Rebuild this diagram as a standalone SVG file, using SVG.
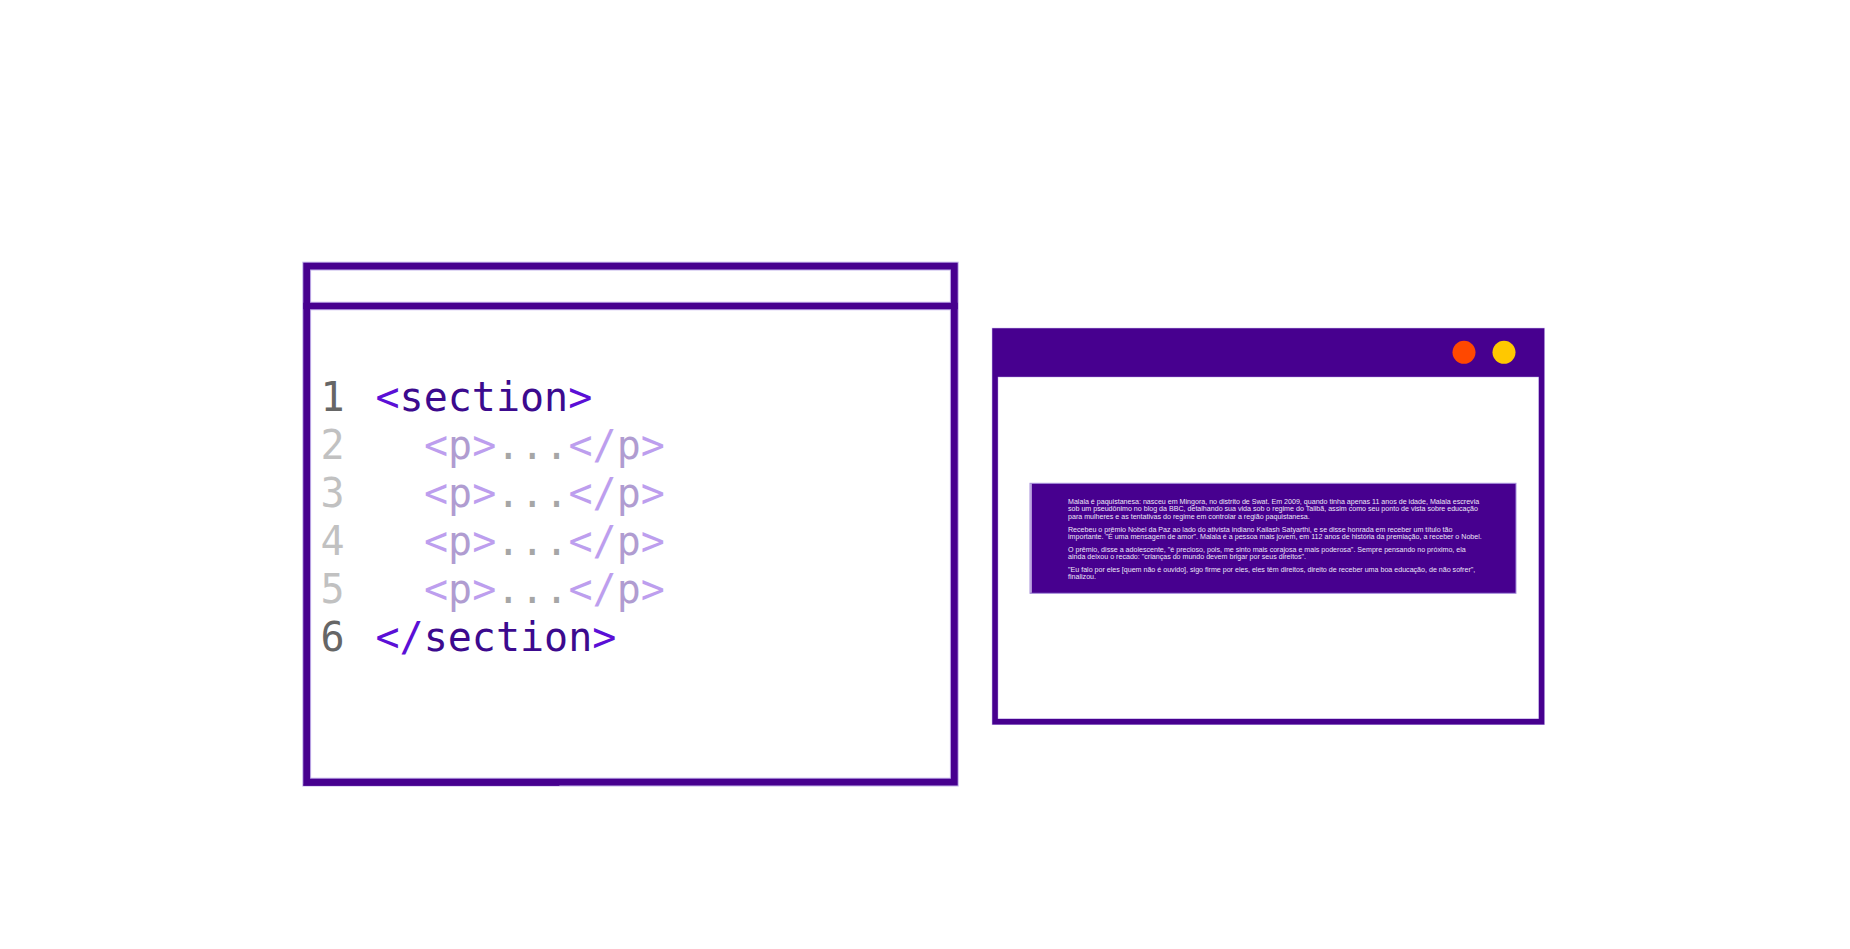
<svg xmlns="http://www.w3.org/2000/svg" width="1850" height="949" viewBox="0 0 1850 949">
  <style>
    .frame { fill: none; stroke: #47008f; }
    .fringe { fill: none; stroke: #c2b1ea; }
    .code { font-family: "DejaVu Sans Mono", "Liberation Mono", monospace; font-size: 40px; }
    .num { fill: #666666; }
    .br { fill: #5b0fd6; }
    .tag { fill: #3c0a8e; }
    .dots { fill: #222222; }
    .dim { opacity: 0.4; }
    .para { font-family: "Liberation Sans", Arial, sans-serif; font-size: 7.1px; fill: #ece6f7; }
  </style>
  <rect x="0" y="0" width="1850" height="949" fill="#ffffff"/>

  <g id="editor-window">
    <rect class="fringe" x="306.7" y="266.1" width="647.6" height="516" stroke-width="8.8"/>
    <line class="fringe" x1="303.3" y1="306" x2="957.7" y2="306" stroke-width="8.6"/>
    <rect class="frame" x="306.7" y="266.1" width="647.6" height="516" stroke-width="6.8"/>
    <line class="frame" x1="303.3" y1="306" x2="957.7" y2="306" stroke-width="6.6"/>
    <rect x="303.3" y="784.6" width="256" height="1.2" fill="#47008f"/>
    <g class="code">
      <text class="num" x="320.5" y="411">1</text>
      <text x="375.5" y="411"><tspan class="br">&lt;</tspan><tspan class="tag">section</tspan><tspan class="br">&gt;</tspan></text>
      <g class="dim">
        <text class="num" x="320.5" y="458.9">2</text>
        <text x="424" y="458.9"><tspan class="br">&lt;</tspan><tspan class="tag">p</tspan><tspan class="br">&gt;</tspan><tspan class="dots">...</tspan><tspan class="br">&lt;/</tspan><tspan class="tag">p</tspan><tspan class="br">&gt;</tspan></text>
        <text class="num" x="320.5" y="506.8">3</text>
        <text x="424" y="506.8"><tspan class="br">&lt;</tspan><tspan class="tag">p</tspan><tspan class="br">&gt;</tspan><tspan class="dots">...</tspan><tspan class="br">&lt;/</tspan><tspan class="tag">p</tspan><tspan class="br">&gt;</tspan></text>
        <text class="num" x="320.5" y="554.7">4</text>
        <text x="424" y="554.7"><tspan class="br">&lt;</tspan><tspan class="tag">p</tspan><tspan class="br">&gt;</tspan><tspan class="dots">...</tspan><tspan class="br">&lt;/</tspan><tspan class="tag">p</tspan><tspan class="br">&gt;</tspan></text>
        <text class="num" x="320.5" y="602.6">5</text>
        <text x="424" y="602.6"><tspan class="br">&lt;</tspan><tspan class="tag">p</tspan><tspan class="br">&gt;</tspan><tspan class="dots">...</tspan><tspan class="br">&lt;/</tspan><tspan class="tag">p</tspan><tspan class="br">&gt;</tspan></text>
      </g>
      <text class="num" x="320.5" y="650.5">6</text>
      <text x="375.5" y="650.5"><tspan class="br">&lt;/</tspan><tspan class="tag">section</tspan><tspan class="br">&gt;</tspan></text>
    </g>
  </g>

  <g id="browser-window">
    <rect x="991.8" y="327.8" width="553" height="397.2" fill="#c2b1ea"/>
    <rect x="992.3" y="328.3" width="552" height="396.2" fill="#47008f"/>
    <rect x="997.8" y="376.8" width="541" height="342.1" fill="#c2b1ea"/>
    <rect x="998.3" y="377.3" width="540" height="341.1" fill="#ffffff"/>
    <circle cx="1464" cy="352.3" r="11.5" fill="#ff4800"/>
    <circle cx="1504" cy="352.3" r="11.5" fill="#ffc800"/>
  </g>

  <g id="content-block">
    <rect x="1030" y="483.3" width="486" height="110" fill="#47008f" stroke="#a790dc" stroke-width="1"/>
    <line x1="1031" y1="483.8" x2="1031" y2="592.8" stroke="#dcd0f4" stroke-width="1.4"/>
    <g class="para">
      <text x="1068" y="504">Malala é paquistanesa: nasceu em Mingora, no distrito de Swat. Em 2009, quando tinha apenas 11 anos de idade, Malala escrevia</text>
      <text x="1068" y="511.4">sob um pseudônimo no blog da BBC, detalhando sua vida sob o regime do Talibã, assim como seu ponto de vista sobre educação</text>
      <text x="1068" y="518.8">para mulheres e as tentativas do regime em controlar a região paquistanesa.</text>
      <text x="1068" y="531.6">Recebeu o prêmio Nobel da Paz ao lado do ativista indiano Kailash Satyarthi, e se disse honrada em receber um título tão</text>
      <text x="1068" y="539">importante. "É uma mensagem de amor". Malala é a pessoa mais jovem, em 112 anos de história da premiação, a receber o Nobel.</text>
      <text x="1068" y="551.8">O prêmio, disse a adolescente, "é precioso, pois, me sinto mais corajosa e mais poderosa". Sempre pensando no próximo, ela</text>
      <text x="1068" y="559.2">ainda deixou o recado: "crianças do mundo devem brigar por seus direitos".</text>
      <text x="1068" y="572">"Eu falo por eles [quem não é ouvido], sigo firme por eles, eles têm direitos, direito de receber uma boa educação, de não sofrer",</text>
      <text x="1068" y="579.4">finalizou.</text>
    </g>
  </g>
</svg>
